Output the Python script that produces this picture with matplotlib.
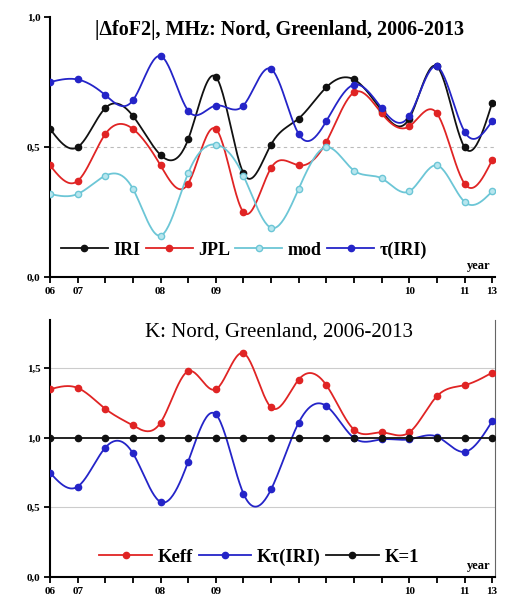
import numpy as np
import matplotlib
matplotlib.use("Agg")
import matplotlib.pyplot as plt
from matplotlib.lines import Line2D

plt.rcParams['font.family'] = ['Liberation Serif', 'DejaVu Serif']

# 17 observation points, equally spaced along the axis
idx = list(range(17))
tick_names = ['06', '07', '', '', '08', '', '09', '', '', '', '', '', '', '10', '', '11', '13']

# top panel: |dfoF2|, MHz
iri = [0.57, 0.50, 0.65, 0.62, 0.47, 0.53, 0.77, 0.40, 0.51, 0.61, 0.73, 0.76, 0.64, 0.61, 0.81, 0.50, 0.67]
jpl = [0.43, 0.37, 0.55, 0.57, 0.43, 0.36, 0.57, 0.25, 0.42, 0.43, 0.52, 0.71, 0.63, 0.58, 0.63, 0.36, 0.45]
mod = [0.32, 0.32, 0.39, 0.34, 0.16, 0.40, 0.51, 0.39, 0.19, 0.34, 0.50, 0.41, 0.38, 0.33, 0.43, 0.29, 0.33]
tau_iri = [0.75, 0.76, 0.70, 0.68, 0.85, 0.64, 0.66, 0.66, 0.80, 0.55, 0.60, 0.74, 0.65, 0.62, 0.81, 0.56, 0.60]

# bottom panel: K
keff = [1.35, 1.36, 1.21, 1.09, 1.11, 1.48, 1.35, 1.61, 1.22, 1.42, 1.38, 1.06, 1.04, 1.04, 1.30, 1.38, 1.47]
ktau = [0.75, 0.65, 0.93, 0.89, 0.54, 0.83, 1.17, 0.60, 0.63, 1.11, 1.23, 1.00, 0.99, 0.99, 1.01, 0.90, 1.12]
k_one = [1.0] * 17

BLACK = '#111111'
RED = '#e02424'
CYAN = '#6cc6d6'
BLUE = '#2424c8'


def smooth(x, y, n=400):
    # natural cubic spline through the points, for drawing only
    x = np.asarray(x, float)
    y = np.asarray(y, float)
    m = len(x)
    h = np.diff(x)
    A = np.zeros((m, m))
    b = np.zeros(m)
    A[0, 0] = A[-1, -1] = 1
    for i in range(1, m - 1):
        A[i, i - 1] = h[i - 1]
        A[i, i] = 2 * (h[i - 1] + h[i])
        A[i, i + 1] = h[i]
        b[i] = 3 * ((y[i + 1] - y[i]) / h[i] - (y[i] - y[i - 1]) / h[i - 1])
    c = np.linalg.solve(A, b)
    xs = np.linspace(x[0], x[-1], n)
    k = np.clip(np.searchsorted(x, xs) - 1, 0, m - 2)
    dx = xs - x[k]
    bb = (y[k + 1] - y[k]) / h[k] - h[k] * (2 * c[k] + c[k + 1]) / 3
    dd = (c[k + 1] - c[k]) / (3 * h[k])
    return xs, y[k] + bb * dx + c[k] * dx ** 2 + dd * dx ** 3


def draw(ax, y, color, label, mfc=None):
    xs, ys = smooth(idx, y)
    ax.plot(xs, ys, color=color, lw=1.3, zorder=3)
    ax.plot(idx, y, 'o', color=color, ms=4.5, mfc=mfc or color, mec=color, zorder=4)
    return Line2D([], [], color=color, lw=1.3, marker='o', ms=4.5, mfc=mfc or color, mec=color, label=label)


def style(ax, ymax, yt, ylabels):
    ax.set_xlim(0, 16.1)
    ax.set_ylim(0, ymax)
    ax.spines['top'].set_visible(False)
    ax.spines['right'].set_visible(False)
    ax.spines['left'].set_linewidth(1.5)
    ax.spines['bottom'].set_linewidth(1.5)
    ax.set_xticks(idx)
    ax.set_xticklabels(tick_names, fontsize=8, fontweight='bold')
    ax.set_yticks(yt)
    ax.set_yticklabels(ylabels, fontsize=8, fontweight='bold')
    ax.tick_params(direction='out', length=4, width=1.3, pad=3)
    ax.text(15.5, 0.02 * ymax, 'year', fontsize=9, fontweight='bold', ha='center', va='bottom')


fig = plt.figure(figsize=(5.05, 6.08), dpi=100)

ax1 = fig.add_axes([0.099, 0.544, 0.881, 0.428])
ax1.axhline(0.5, color='#bbbbbb', lw=0.8, ls=(0, (3, 3)), zorder=1)
h1 = [draw(ax1, iri, BLACK, 'IRI'),
      draw(ax1, jpl, RED, 'JPL'),
      draw(ax1, mod, CYAN, 'mod', mfc='#b8e6ee'),
      draw(ax1, tau_iri, BLUE, 'τ(IRI)')]
style(ax1, 1.0, [0, 0.5, 1.0], ['0,0', '0,5', '1,0'])
ax1.text(8.3, 0.99, '|ΔfoF2|, MHz: Nord, Greenland, 2006-2013', fontsize=14.5,
         fontweight='bold', ha='center', va='top')
ax1.legend(handles=h1, loc='lower left', bbox_to_anchor=(0.0, 0.03), ncol=4, frameon=False,
           prop={'size': 13, 'weight': 'bold'}, handlelength=2.6, handletextpad=0.3,
           columnspacing=0.3, borderpad=0.1)

ax2 = fig.add_axes([0.099, 0.051, 0.881, 0.423])
for g in [0.5, 1.5]:
    ax2.axhline(g, color='#cccccc', lw=0.8, zorder=1)
h2 = [draw(ax2, keff, RED, 'Keff'),
      draw(ax2, ktau, BLUE, 'Kτ(IRI)'),
      draw(ax2, k_one, BLACK, 'K=1')]
style(ax2, 1.85, [0, 0.5, 1.0, 1.5], ['0,0', '0,5', '1,0', '1,5'])
ax2.spines['right'].set_visible(True)
ax2.spines['right'].set_color('#666666')
ax2.text(8.3, 1.83, 'K: Nord, Greenland, 2006-2013', fontsize=15,
         ha='center', va='top')
ax2.legend(handles=h2, loc='lower center', bbox_to_anchor=(0.47, 0.0), ncol=3, frameon=False,
           prop={'size': 13.5, 'weight': 'bold'}, handlelength=2.8, handletextpad=0.3,
           columnspacing=0.3, borderpad=0.1)

fig.savefig('out.png', dpi=100)
